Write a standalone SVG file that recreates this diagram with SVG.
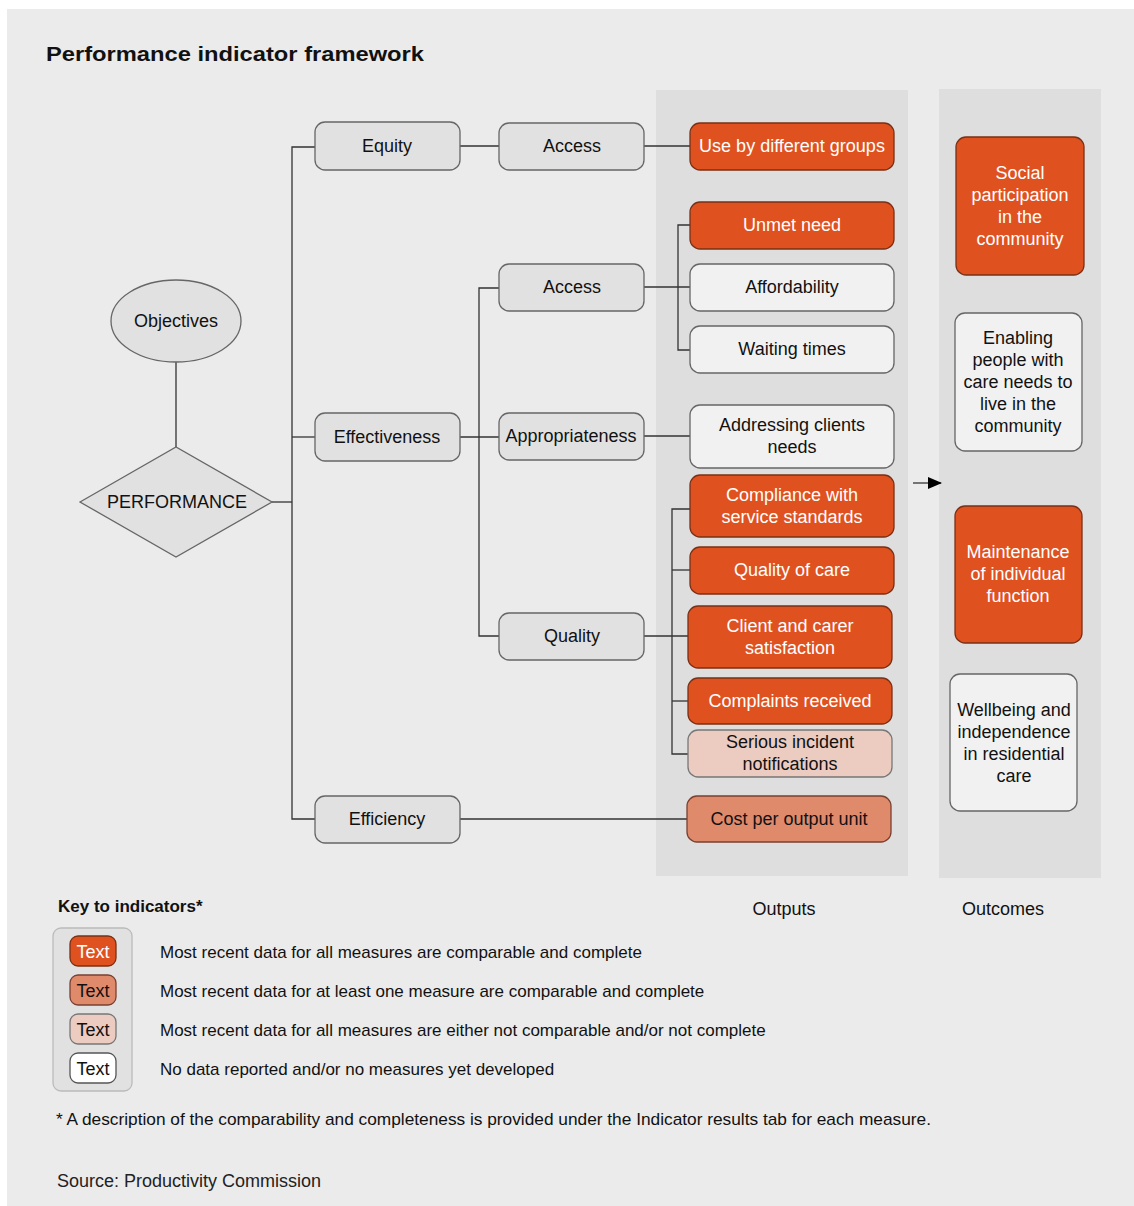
<svg xmlns="http://www.w3.org/2000/svg" width="1134" height="1206" viewBox="0 0 1134 1206">
<defs>
<marker id="arr" markerWidth="14" markerHeight="12" refX="13" refY="6" orient="auto" markerUnits="userSpaceOnUse">
<path d="M0,0 L14,6 L0,12 z" fill="#000"/>
</marker>
</defs>
<style>
text{font-family:"Liberation Sans",Arial,sans-serif;font-size:18px;fill:#111;text-anchor:middle}
.grey{fill:#e1e1e1;stroke:#666;stroke-width:1.3}
.o1{fill:#df5220;stroke:#7a3015;stroke-width:1.3}
.o2{fill:#e08a6c;stroke:#7a4030;stroke-width:1.3}
.o3{fill:#eccbc0;stroke:#777;stroke-width:1.3}
.o4{fill:#f1f1f1;stroke:#666;stroke-width:1.3}
.w{fill:#fff}
.l{text-anchor:start}
.k{font-size:17px}
.c line,.c path{stroke:#333;stroke-width:1.3;fill:none}
</style>
<rect x="0" y="0" width="1134" height="1206" fill="#fff"/>
<rect x="7" y="9" width="1127" height="1197" fill="#ebebeb"/>
<rect x="656" y="90" width="252" height="786" fill="#dedede"/>
<rect x="939" y="89" width="162" height="789" fill="#dedede"/>
<text x="46" y="61" class="l" style="font-size:21px;font-weight:bold" textLength="378" lengthAdjust="spacingAndGlyphs">Performance indicator framework</text>

<g class="c" id="connectors">
<line x1="176" y1="362" x2="176" y2="447"/>
<line x1="272" y1="502" x2="292" y2="502"/>
<path d="M315,147 H292 V819 H315"/>
<line x1="292" y1="437" x2="315" y2="437"/>
<line x1="460" y1="146" x2="499" y2="146"/>
<line x1="644" y1="146" x2="690" y2="146"/>
<line x1="460" y1="437" x2="499" y2="437"/>
<path d="M499,288 H479 V636 H499"/>
<line x1="644" y1="287" x2="690" y2="287"/>
<path d="M690,225 H678 V350 H690"/>
<line x1="644" y1="436" x2="690" y2="436"/>
<line x1="644" y1="636" x2="688" y2="636"/>
<path d="M690,509 H672 V754 H688"/>
<line x1="672" y1="570" x2="690" y2="570"/>
<line x1="672" y1="701" x2="688" y2="701"/>
<line x1="460" y1="819" x2="687" y2="819"/>
<line x1="913" y1="483" x2="941" y2="483" marker-end="url(#arr)"/>
</g>

<g id="objectives"><ellipse cx="176" cy="321" rx="65" ry="41" class="grey"/><text x="176" y="327">Objectives</text></g>
<g id="performance"><path d="M80,502 L176,447 L272,502 L176,557 z" class="grey"/><text x="177" y="508">PERFORMANCE</text></g>

<g id="equity"><rect x="315" y="122" width="145" height="48" rx="10" class="grey"/><text x="387" y="152">Equity</text></g>
<g id="effectiveness"><rect x="315" y="413" width="145" height="48" rx="10" class="grey"/><text x="387" y="443">Effectiveness</text></g>
<g id="efficiency"><rect x="315" y="796" width="145" height="47" rx="10" class="grey"/><text x="387" y="825">Efficiency</text></g>

<g id="access1"><rect x="499" y="123" width="145" height="47" rx="10" class="grey"/><text x="572" y="152">Access</text></g>
<g id="access2"><rect x="499" y="264" width="145" height="47" rx="10" class="grey"/><text x="572" y="293">Access</text></g>
<g id="appropriateness"><rect x="499" y="413" width="145" height="47" rx="10" class="grey"/><text x="571" y="442">Appropriateness</text></g>
<g id="quality"><rect x="499" y="613" width="145" height="47" rx="10" class="grey"/><text x="572" y="642">Quality</text></g>

<g id="use-groups"><rect x="690" y="123" width="204" height="47" rx="10" class="o1"/><text x="792" y="152" class="w">Use by different groups</text></g>
<g id="unmet"><rect x="690" y="202" width="204" height="47" rx="10" class="o1"/><text x="792" y="231" class="w">Unmet need</text></g>
<g id="affordability"><rect x="690" y="264" width="204" height="47" rx="10" class="o4"/><text x="792" y="293">Affordability</text></g>
<g id="waiting"><rect x="690" y="326" width="204" height="47" rx="10" class="o4"/><text x="792" y="355">Waiting times</text></g>
<g id="addressing"><rect x="690" y="405" width="204" height="63" rx="10" class="o4"/><text x="792" y="431">Addressing clients</text><text x="792" y="453">needs</text></g>
<g id="compliance"><rect x="690" y="475" width="204" height="62" rx="10" class="o1"/><text x="792" y="501" class="w">Compliance with</text><text x="792" y="523" class="w">service standards</text></g>
<g id="quality-care"><rect x="690" y="547" width="204" height="47" rx="10" class="o1"/><text x="792" y="576" class="w">Quality of care</text></g>
<g id="satisfaction"><rect x="688" y="606" width="204" height="62" rx="10" class="o1"/><text x="790" y="632" class="w">Client and carer</text><text x="790" y="654" class="w">satisfaction</text></g>
<g id="complaints"><rect x="688" y="678" width="204" height="46" rx="10" class="o1"/><text x="790" y="707" class="w">Complaints received</text></g>
<g id="serious"><rect x="688" y="730" width="204" height="47" rx="10" class="o3"/><text x="790" y="748">Serious incident</text><text x="790" y="770">notifications</text></g>
<g id="cost"><rect x="687" y="796" width="204" height="46" rx="10" class="o2"/><text x="789" y="825">Cost per output unit</text></g>

<g id="social"><rect x="956" y="137" width="128" height="138" rx="10" class="o1"/><text x="1020" y="179" class="w">Social</text><text x="1020" y="201" class="w">participation</text><text x="1020" y="223" class="w">in the</text><text x="1020" y="245" class="w">community</text></g>
<g id="enabling"><rect x="955" y="313" width="127" height="138" rx="10" class="o4"/><text x="1018" y="344">Enabling</text><text x="1018" y="366">people with</text><text x="1018" y="388">care needs to</text><text x="1018" y="410">live in the</text><text x="1018" y="432">community</text></g>
<g id="maintenance"><rect x="955" y="506" width="127" height="137" rx="10" class="o1"/><text x="1018" y="558" class="w">Maintenance</text><text x="1018" y="580" class="w">of individual</text><text x="1018" y="602" class="w">function</text></g>
<g id="wellbeing"><rect x="950" y="674" width="127" height="137" rx="10" class="o4"/><text x="1014" y="716">Wellbeing and</text><text x="1014" y="738">independence</text><text x="1014" y="760">in residential</text><text x="1014" y="782">care</text></g>

<text x="784" y="915">Outputs</text>
<text x="1003" y="915">Outcomes</text>

<g id="key">
<text x="58" y="912" class="l k" style="font-weight:bold">Key to indicators*</text>
<rect x="53" y="928" width="79" height="163" rx="8" fill="#e1e1e1" stroke="#bbb" stroke-width="1.3"/>
<rect x="70" y="936" width="46" height="30" rx="8" class="o1"/><text x="93" y="958" class="w">Text</text>
<rect x="70" y="975" width="46" height="30" rx="8" class="o2"/><text x="93" y="997">Text</text>
<rect x="70" y="1014" width="46" height="30" rx="8" class="o3"/><text x="93" y="1036">Text</text>
<rect x="70" y="1053" width="46" height="30" rx="8" fill="#fff" stroke="#555" stroke-width="1.3"/><text x="93" y="1075">Text</text>
<text x="160" y="958" class="l k">Most recent data for all measures are comparable and complete</text>
<text x="160" y="997" class="l k">Most recent data for at least one measure are comparable and complete</text>
<text x="160" y="1036" class="l k">Most recent data for all measures are either not comparable and/or not complete</text>
<text x="160" y="1075" class="l k">No data reported and/or no measures yet developed</text>
</g>
<text x="56" y="1125" class="l k" textLength="875" lengthAdjust="spacingAndGlyphs">* A description of the comparability and completeness is provided under the Indicator results tab for each measure.</text>
<text x="57" y="1187" class="l" style="fill:#222">Source: Productivity Commission</text>
</svg>
